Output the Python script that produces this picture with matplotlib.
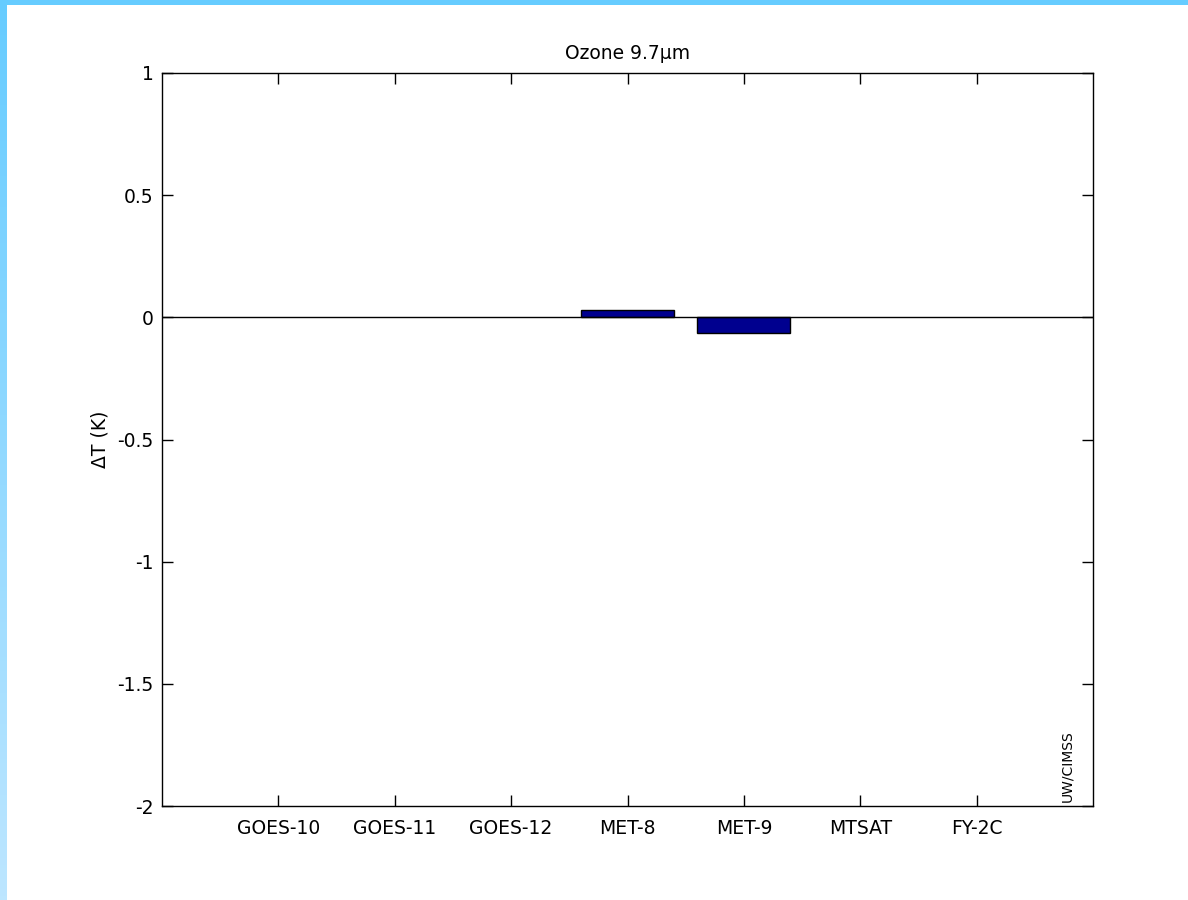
import numpy as np
import matplotlib.pyplot as plt
from matplotlib.colors import LinearSegmentedColormap

# Satellite categories and brightness-temperature differences (K)
satellites = ['GOES-10', 'GOES-11', 'GOES-12', 'MET-8', 'MET-9', 'MTSAT', 'FY-2C']
delta_t = [0.0, 0.0, 0.0, 0.03, -0.065, 0.0, 0.0]
yticks = [-2, -1.5, -1, -0.5, 0, 0.5, 1]
ytick_labels = ['-2', '-1.5', '-1', '-0.5', '0', '0.5', '1']

plt.rcParams['font.family'] = ['DejaVu Sans']

fig = plt.figure(figsize=(11.88, 9), dpi=100)
fig.patch.set_facecolor('white')

# light blue frame on the left (gradient) and top
grad_ax = fig.add_axes([0, 0, 6 / 1188, 1])
grad = np.linspace(0, 1, 256).reshape(-1, 1)
cmap = LinearSegmentedColormap.from_list('frame', ['#66CCFF', '#BDE6FF'])
grad_ax.imshow(grad, aspect='auto', cmap=cmap, extent=[0, 1, 0, 1], origin='upper')
grad_ax.axis('off')
top_ax = fig.add_axes([0, 1 - 5 / 900, 1, 5 / 900])
top_ax.set_facecolor('#66CCFF')
top_ax.set_xticks([])
top_ax.set_yticks([])
for s in top_ax.spines.values():
    s.set_visible(False)

ax = fig.add_axes([162 / 1188, 94 / 900, (1093 - 162) / 1188, (806 - 73) / 900])
x = np.arange(1, len(satellites) + 1)
bars = ax.bar(x, delta_t, width=0.8, color='#00008F', edgecolor='black', linewidth=1, zorder=2)
for b, v in zip(bars, delta_t):
    if v == 0:
        b.set_visible(False)
ax.axhline(0, color='black', linewidth=1, zorder=3)

ax.set_xlim(0, 8)
ax.set_ylim(-2, 1)
ax.set_xticks(x)
ax.set_xticklabels(satellites, fontsize=13.5)
ax.set_yticks(yticks)
ax.set_yticklabels(ytick_labels, fontsize=13.5)
ax.tick_params(direction='in', length=8, width=1, top=True, right=True)
ax.tick_params(axis='y', pad=6)
ax.tick_params(axis='x', pad=9)
for s in ax.spines.values():
    s.set_linewidth(1)
ax.set_ylabel('ΔT (K)', fontsize=13.5, labelpad=6)
ax.set_title('Ozone 9.7μm', fontsize=13.5, pad=10)

ax.text(1067, 98, 'UW/CIMSS', transform=None, rotation=90, fontsize=10,
        ha='center', va='bottom')

fig.savefig('out.png', dpi=100)
